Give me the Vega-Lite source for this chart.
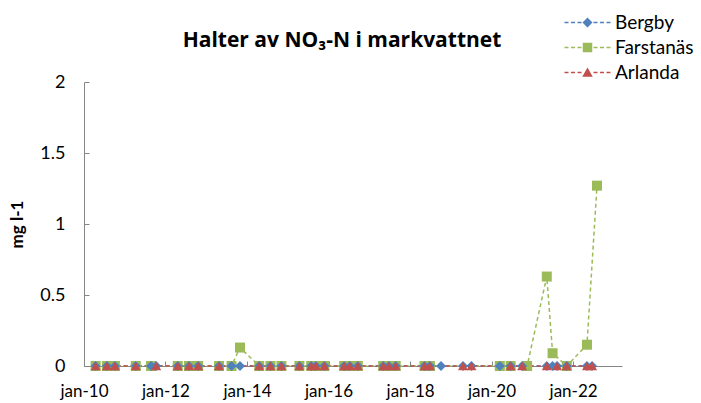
{
  "$schema": "https://vega.github.io/schema/vega-lite/v6.json",
  "width": 538,
  "height": 284,
  "autosize": "none",
  "padding": {"left": 84, "top": 82, "right": 79, "bottom": 37},
  "background": "white",
  "config": {
    "view": {"stroke": null},
    "font": "Lato",
    "axis": {"grid": false, "domainColor": "#868686", "tickColor": "#868686", "labelColor": "#000000", "labelFont": "Lato", "labelFontSize": 17, "titleFont": "Lato"}
  },
  "title": {"text": "Halter av NO₃-N i markvattnet", "fontSize": 21, "fontWeight": "bold", "font": "Open Sans", "color": "#000000", "offset": -38, "dx": -11},
  "datasets": {
    "obs": [
      {"date": "2010-04-15", "site": "Bergby", "value": 0},
      {"date": "2010-07-25", "site": "Bergby", "value": 0},
      {"date": "2010-10-05", "site": "Bergby", "value": 0},
      {"date": "2011-04-10", "site": "Bergby", "value": 0},
      {"date": "2011-08-25", "site": "Bergby", "value": 0},
      {"date": "2011-10-10", "site": "Bergby", "value": 0},
      {"date": "2012-04-20", "site": "Bergby", "value": 0},
      {"date": "2012-07-30", "site": "Bergby", "value": 0},
      {"date": "2012-10-20", "site": "Bergby", "value": 0},
      {"date": "2013-04-25", "site": "Bergby", "value": 0},
      {"date": "2013-08-15", "site": "Bergby", "value": 0},
      {"date": "2013-10-30", "site": "Bergby", "value": 0},
      {"date": "2014-04-20", "site": "Bergby", "value": 0},
      {"date": "2014-07-30", "site": "Bergby", "value": 0},
      {"date": "2014-11-05", "site": "Bergby", "value": 0},
      {"date": "2015-04-15", "site": "Bergby", "value": 0},
      {"date": "2015-07-30", "site": "Bergby", "value": 0},
      {"date": "2015-09-10", "site": "Bergby", "value": 0},
      {"date": "2015-11-25", "site": "Bergby", "value": 0},
      {"date": "2016-05-20", "site": "Bergby", "value": 0},
      {"date": "2016-07-10", "site": "Bergby", "value": 0},
      {"date": "2016-09-20", "site": "Bergby", "value": 0},
      {"date": "2017-05-05", "site": "Bergby", "value": 0},
      {"date": "2017-06-25", "site": "Bergby", "value": 0},
      {"date": "2017-08-25", "site": "Bergby", "value": 0},
      {"date": "2018-05-10", "site": "Bergby", "value": 0},
      {"date": "2018-06-28", "site": "Bergby", "value": 0},
      {"date": "2018-10-05", "site": "Bergby", "value": 0},
      {"date": "2019-04-20", "site": "Bergby", "value": 0},
      {"date": "2019-07-05", "site": "Bergby", "value": 0},
      {"date": "2020-03-15", "site": "Bergby", "value": 0},
      {"date": "2020-06-20", "site": "Bergby", "value": 0},
      {"date": "2020-10-01", "site": "Bergby", "value": 0},
      {"date": "2021-05-10", "site": "Bergby", "value": 0},
      {"date": "2021-07-01", "site": "Bergby", "value": 0},
      {"date": "2021-08-10", "site": "Bergby", "value": 0},
      {"date": "2021-11-05", "site": "Bergby", "value": 0},
      {"date": "2022-05-05", "site": "Bergby", "value": 0},
      {"date": "2022-06-20", "site": "Bergby", "value": 0},

      {"date": "2010-04-15", "site": "Farstanäs", "value": 0},
      {"date": "2010-07-25", "site": "Farstanäs", "value": 0},
      {"date": "2010-10-05", "site": "Farstanäs", "value": 0},
      {"date": "2011-04-10", "site": "Farstanäs", "value": 0},
      {"date": "2011-08-25", "site": "Farstanäs", "value": 0},
      {"date": "2012-04-20", "site": "Farstanäs", "value": 0},
      {"date": "2012-07-30", "site": "Farstanäs", "value": 0},
      {"date": "2012-10-20", "site": "Farstanäs", "value": 0},
      {"date": "2013-04-25", "site": "Farstanäs", "value": 0},
      {"date": "2013-08-15", "site": "Farstanäs", "value": 0},
      {"date": "2013-10-30", "site": "Farstanäs", "value": 0.13},
      {"date": "2014-04-20", "site": "Farstanäs", "value": 0},
      {"date": "2014-07-30", "site": "Farstanäs", "value": 0},
      {"date": "2014-11-05", "site": "Farstanäs", "value": 0},
      {"date": "2015-04-15", "site": "Farstanäs", "value": 0},
      {"date": "2015-07-30", "site": "Farstanäs", "value": 0},
      {"date": "2015-09-10", "site": "Farstanäs", "value": 0},
      {"date": "2015-11-25", "site": "Farstanäs", "value": 0},
      {"date": "2016-05-20", "site": "Farstanäs", "value": 0},
      {"date": "2016-07-10", "site": "Farstanäs", "value": 0},
      {"date": "2016-09-20", "site": "Farstanäs", "value": 0},
      {"date": "2017-05-05", "site": "Farstanäs", "value": 0},
      {"date": "2017-06-25", "site": "Farstanäs", "value": 0},
      {"date": "2017-08-25", "site": "Farstanäs", "value": 0},
      {"date": "2018-05-10", "site": "Farstanäs", "value": 0},
      {"date": "2018-06-28", "site": "Farstanäs", "value": 0},
      {"date": "2020-03-15", "site": "Farstanäs", "value": 0},
      {"date": "2020-06-20", "site": "Farstanäs", "value": 0},
      {"date": "2020-11-15", "site": "Farstanäs", "value": 0},
      {"date": "2021-05-10", "site": "Farstanäs", "value": 0.63},
      {"date": "2021-07-01", "site": "Farstanäs", "value": 0.09},
      {"date": "2021-11-05", "site": "Farstanäs", "value": 0},
      {"date": "2022-05-05", "site": "Farstanäs", "value": 0.15},
      {"date": "2022-08-03", "site": "Farstanäs", "value": 1.27},

      {"date": "2010-04-15", "site": "Arlanda", "value": 0},
      {"date": "2010-07-25", "site": "Arlanda", "value": 0},
      {"date": "2010-10-05", "site": "Arlanda", "value": 0},
      {"date": "2011-04-10", "site": "Arlanda", "value": 0},
      {"date": "2011-10-10", "site": "Arlanda", "value": 0},
      {"date": "2012-04-20", "site": "Arlanda", "value": 0},
      {"date": "2012-07-30", "site": "Arlanda", "value": 0},
      {"date": "2012-10-20", "site": "Arlanda", "value": 0},
      {"date": "2013-04-25", "site": "Arlanda", "value": 0},
      {"date": "2014-04-20", "site": "Arlanda", "value": 0},
      {"date": "2014-07-30", "site": "Arlanda", "value": 0},
      {"date": "2014-11-05", "site": "Arlanda", "value": 0},
      {"date": "2015-04-15", "site": "Arlanda", "value": 0},
      {"date": "2015-07-30", "site": "Arlanda", "value": 0},
      {"date": "2015-09-10", "site": "Arlanda", "value": 0},
      {"date": "2015-11-25", "site": "Arlanda", "value": 0},
      {"date": "2016-05-20", "site": "Arlanda", "value": 0},
      {"date": "2016-07-10", "site": "Arlanda", "value": 0},
      {"date": "2016-09-20", "site": "Arlanda", "value": 0},
      {"date": "2017-05-05", "site": "Arlanda", "value": 0},
      {"date": "2017-06-25", "site": "Arlanda", "value": 0},
      {"date": "2017-08-25", "site": "Arlanda", "value": 0},
      {"date": "2018-05-10", "site": "Arlanda", "value": 0},
      {"date": "2018-06-28", "site": "Arlanda", "value": 0},
      {"date": "2019-04-20", "site": "Arlanda", "value": 0},
      {"date": "2019-07-05", "site": "Arlanda", "value": 0},
      {"date": "2020-06-20", "site": "Arlanda", "value": 0},
      {"date": "2020-10-01", "site": "Arlanda", "value": 0},
      {"date": "2021-05-10", "site": "Arlanda", "value": 0},
      {"date": "2021-08-10", "site": "Arlanda", "value": 0},
      {"date": "2021-11-05", "site": "Arlanda", "value": 0},
      {"date": "2022-05-05", "site": "Arlanda", "value": 0},
      {"date": "2022-06-20", "site": "Arlanda", "value": 0}
    ]
  },
  "data": {"name": "obs"},
  "encoding": {
    "x": {
      "field": "date", "type": "temporal", "title": null,
      "scale": {"domain": [{"year": 2010, "month": 1, "date": 1}, {"year": 2023, "month": 3, "date": 15}]},
      "axis": {
        "values": [{"year": 2010, "month": 1, "date": 1}, {"year": 2012, "month": 1, "date": 1}, {"year": 2014, "month": 1, "date": 1}, {"year": 2016, "month": 1, "date": 1}, {"year": 2018, "month": 1, "date": 1}, {"year": 2020, "month": 1, "date": 1}, {"year": 2022, "month": 1, "date": 1}],
        "labelExpr": "'jan-' + timeFormat(datum.value, '%y')",
        "tickSize": -5, "labelPadding": 22, "labelFlush": false, "labelOverlap": false
      }
    },
    "y": {
      "field": "value", "type": "quantitative",
      "scale": {"domain": [0, 2], "nice": false},
      "axis": {"values": [0, 0.5, 1, 1.5, 2], "format": "~g", "labelFontSize": 18, "title": "mg l-1", "titleFontSize": 17, "titleFontWeight": "bold", "titleColor": "#000000", "tickSize": -5, "labelPadding": 24, "titlePadding": 13}
    }
  },
  "layer": [
    {
      "mark": {"type": "line", "strokeDash": [4, 3], "strokeWidth": 1.5},
      "encoding": {
        "color": {"field": "site", "type": "nominal", "legend": null,
          "scale": {"domain": ["Bergby", "Farstanäs", "Arlanda"], "range": ["#4F81BD", "#9BBB59", "#C0504D"]}}
      }
    },
    {
      "mark": {"type": "point", "filled": true, "opacity": 1, "size": 100},
      "encoding": {
        "color": {"field": "site", "type": "nominal", "legend": null},
        "order": {"field": "site", "type": "nominal", "sort": "descending"},
        "shape": {"field": "site", "type": "nominal", "legend": null,
          "scale": {"domain": ["Bergby", "Farstanäs", "Arlanda"], "range": ["diamond", "square", "triangle-up"]}}
      }
    },
    {
      "transform": [{"filter": "false"}],
      "mark": {"type": "point", "filled": true, "opacity": 1, "size": 100},
      "encoding": {
        "fill": {"field": "site", "type": "nominal",
          "scale": {"domain": ["Bergby", "Farstanäs", "Arlanda"], "range": ["#4F81BD", "#9BBB59", "#C0504D"]},
          "legend": {"title": null, "orient": "none", "legendX": 494, "legendY": -69, "symbolSize": 100, "labelFontSize": 19, "labelFont": "Lato", "labelColor": "#000000", "labelOffset": 18, "rowPadding": 5, "padding": 0, "symbolStrokeWidth": 0}},
        "shape": {"field": "site", "type": "nominal",
          "scale": {"domain": ["Bergby", "Farstanäs", "Arlanda"], "range": [
            "M-4.6,-0.15H-3.8V0.15H-4.6ZM-3.3,-0.15H-2.5V0.15H-3.3ZM-2.0,-0.15H-1.2V0.15H-2.0ZM1.2,-0.15H2.0V0.15H1.2ZM2.5,-0.15H3.3V0.15H2.5ZM3.8,-0.15H4.6V0.15H3.8ZM0,-1L1,0L0,1L-1,0Z",
            "M-4.6,-0.15H-3.8V0.15H-4.6ZM-3.3,-0.15H-2.5V0.15H-3.3ZM-2.0,-0.15H-1.2V0.15H-2.0ZM1.2,-0.15H2.0V0.15H1.2ZM2.5,-0.15H3.3V0.15H2.5ZM3.8,-0.15H4.6V0.15H3.8ZM-0.95,-0.95H0.95V0.95H-0.95Z",
            "M-4.6,-0.15H-3.8V0.15H-4.6ZM-3.3,-0.15H-2.5V0.15H-3.3ZM-2.0,-0.15H-1.2V0.15H-2.0ZM1.2,-0.15H2.0V0.15H1.2ZM2.5,-0.15H3.3V0.15H2.5ZM3.8,-0.15H4.6V0.15H3.8ZM0,-1L1.05,0.85H-1.05Z"
          ]},
          "legend": {"title": null, "orient": "none", "legendX": 494, "legendY": -69, "symbolSize": 100, "labelFontSize": 19, "labelFont": "Lato", "labelColor": "#000000", "labelOffset": 18, "rowPadding": 5, "padding": 0, "symbolStrokeWidth": 0}}
      }
    }
  ],
  "resolve": {"scale": {"shape": "independent", "fill": "independent"}}
}
